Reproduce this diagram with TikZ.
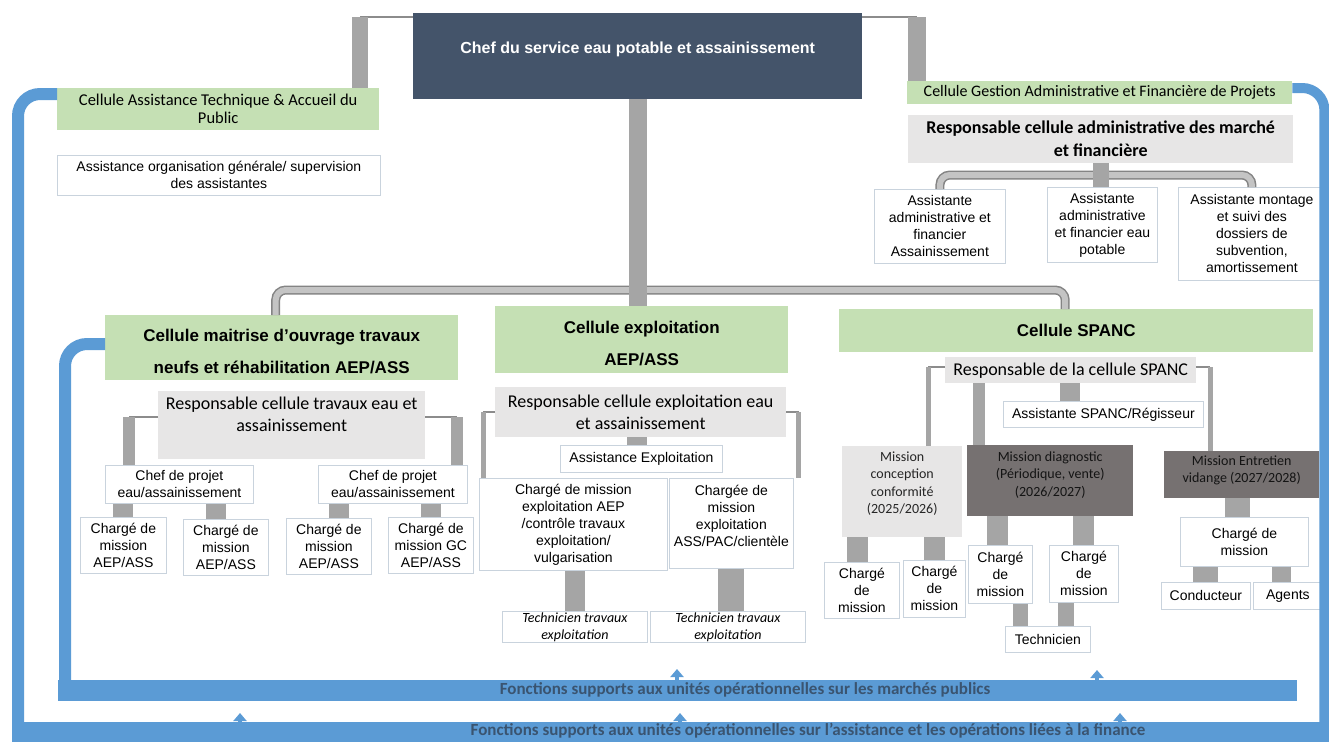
\documentclass[tikz,border=0pt]{standalone}
\usepackage{fontspec}
\setmainfont{Liberation Sans}
\newfontfamily\calibri{Carlito}
\usetikzlibrary{arrows.meta}
\definecolor{ChefClr}{HTML}{44546A}
\definecolor{CellClr}{HTML}{C5E0B4}
\definecolor{RespClr}{HTML}{E7E6E6}
\definecolor{MissClr}{HTML}{767171}
\definecolor{TigeClr}{HTML}{A5A5A5}
\definecolor{BusClr}{HTML}{C4C4C4}
\definecolor{BleuClr}{HTML}{5B9BD5}
\definecolor{BordClr}{HTML}{C9D3DD}
\definecolor{SuppClr}{HTML}{3A5470}

\tikzset{
  boite/.style 2 args={anchor=north west, inner sep=0pt, align=center,
    minimum width=#1pt, minimum height=#2pt},
  chefbox/.style={fill=ChefClr, text=white, font=\bfseries\fontsize{16}{19}\selectfont},
  cellbox/.style={fill=CellClr, font=\bfseries\fontsize{17}{32}\selectfont},
  cellpetit/.style={fill=CellClr, font=\calibri\fontsize{16.5}{18}\selectfont},
  respbox/.style={fill=RespClr, font=\calibri\fontsize{18}{22}\selectfont},
  postebox/.style={draw=BordClr, fill=white, line width=0.8pt, font=\fontsize{14}{17}\selectfont},
  techbox/.style={postebox, font=\calibri\itshape\fontsize{14}{17}\selectfont},
  missclair/.style={fill=RespClr, text=black!85, font=\calibri\fontsize{14}{17.5}\selectfont},
  missfonce/.style={fill=MissClr, text=black!92, font=\calibri\fontsize{14}{17.5}\selectfont},
  tige/.style={draw=TigeClr, line width=#1pt},
  tige/.default=20,
  fil/.style={draw=TigeClr!85!black, line width=2pt},
  bus/.style={draw=TigeClr!80!black, line width=1.5pt, double=BusClr,
    double distance=6pt, rounded corners=10pt},
  cadre/.style={draw=BleuClr, line width=#1pt, rounded corners=22pt},
  cadre/.default=12,
  barre/.style={fill=BleuClr, anchor=north west, inner sep=0pt},
  supp/.style={text=SuppClr, font=\calibri\bfseries\fontsize{17}{19}\selectfont},
  flecheb/.style={draw=BleuClr, line width=4pt, -{Triangle[width=13pt,length=8pt]}},
}

\begin{document}
\begin{tikzpicture}[x=1pt,y=-1pt]
\useasboundingbox (0,0) rectangle (1329,742);
\fill[white] (0,0) rectangle (1329,742);

% Direction du service.
\node[boite={449}{86}, chefbox, text depth=17pt] (chef) at (413,13)
  {Chef du service eau potable et assainissement};

% Cellule assistance technique (en haut à gauche).
\node[boite={322}{42}, cellpetit] (cat) at (57,88)
  {Cellule Assistance Technique \& Accueil du\\Public};
\node[boite={323}{40}, postebox] (aog) at (57,155)
  {Assistance organisation générale/ supervision\\des assistantes};

% Cellule gestion administrative et financière (en haut à droite).
\node[boite={385}{23}, cellpetit, font=\calibri\fontsize{16}{18}\selectfont] (cgest) at (907,81)
  {Cellule Gestion Administrative et Financière de Projets};
\node[boite={385}{48}, respbox, font=\calibri\bfseries\fontsize{18}{23}\selectfont] (rcaf) at (908,115)
  {Responsable cellule administrative des marché\\et financière};
\node[boite={131}{74}, postebox] (aa1) at (874,189)
  {Assistante\\administrative et\\financier\\Assainissement};
\node[boite={110}{75}, postebox] (aa2) at (1047,187)
  {Assistante\\administrative\\et financier eau\\potable};
\node[boite={147}{93}, postebox] (aa3) at (1178,187)
  {Assistante montage\\et suivi des\\dossiers de\\subvention,\\amortissement};

% Les trois cellules opérationnelles.
\node[boite={353}{65}, cellbox, text height=52pt] (cmo) at (105,315)
  {Cellule maitrise d’ouvrage travaux\\neufs et réhabilitation AEP/ASS};
\node[boite={293}{67}, cellbox, text height=52pt] (cex) at (495,306)
  {Cellule exploitation\\AEP/ASS};
\node[boite={474}{43}, cellbox] (cspanc) at (839,309) {Cellule SPANC};

% Cellule maitrise d'ouvrage.
\node[boite={267}{68}, respbox, text depth=22pt] (rtx) at (158,391)
  {Responsable cellule travaux eau et\\assainissement};
\node[boite={148}{38}, postebox] (cp1) at (105,465) {Chef de projet\\eau/assainissement};
\node[boite={149}{38}, postebox] (cp2) at (318,465) {Chef de projet\\eau/assainissement};
\node[boite={86}{56}, postebox] (cm1) at (80,517) {Chargé de\\mission\\AEP/ASS};
\node[boite={85}{56}, postebox] (cm2) at (183,519) {Chargé de\\mission\\AEP/ASS};
\node[boite={85}{56}, postebox] (cm3) at (286,518) {Chargé de\\mission\\AEP/ASS};
\node[boite={85}{56}, postebox] (cm4) at (388,517) {Chargé de\\mission GC\\AEP/ASS};

% Cellule exploitation.
\node[boite={291}{50}, respbox] (rex) at (495,387)
  {Responsable cellule exploitation eau\\et assainissement};
\node[boite={162}{27}, postebox] (aex) at (560,445) {Assistance Exploitation};
\node[boite={188}{92}, postebox] (cme1) at (479,478)
  {Chargé de mission\\exploitation AEP\\/contrôle travaux\\exploitation/\\vulgarisation};
\node[boite={124}{90}, postebox, text depth=16pt] (cme2) at (669,478)
  {Chargée de\\mission\\exploitation\\ASS/PAC/clientèle};
\node[boite={145}{31}, techbox] (te1) at (502,611) {Technicien travaux\\exploitation};
\node[boite={155}{31}, techbox] (te2) at (650,611) {Technicien travaux\\exploitation};

% Cellule SPANC.
\node[boite={251}{26}, respbox] (rsp) at (945,357) {Responsable de la cellule SPANC};
\node[boite={200}{26}, postebox] (asp) at (1003,401) {Assistante SPANC/Régisseur};
\node[boite={120}{91}, missclair, text depth=18pt] (mcc) at (842,446)
  {Mission\\conception\\conformité\\(2025/2026)};
\node[boite={166}{71}, missfonce, text depth=14pt] (mdg) at (967,445)
  {Mission diagnostic\\(Périodique, vente)\\(2026/2027)};
\node[boite={155}{47}, missfonce, text depth=11.5pt] (men) at (1164,451)
  {Mission Entretien\\vidange (2027/2028)};
\node[boite={75}{56}, postebox] (cs1) at (824,562) {Chargé\\de\\mission};
\node[boite={62}{57}, postebox] (cs2) at (903,560) {Chargé\\de\\mission};
\node[boite={64}{58}, postebox] (cs3) at (968,545) {Chargé\\de\\mission};
\node[boite={69}{57}, postebox] (cs4) at (1049,545) {Chargé\\de\\mission};
\node[boite={85}{26}, postebox] (tec) at (1005,626) {Technicien};
\node[boite={128}{49}, postebox] (cs5) at (1180,517) {Chargé de\\mission};
\node[boite={89}{27}, postebox] (cond) at (1161,582) {Conducteur};
\node[boite={69}{27}, postebox] (agt) at (1253,582) {Agents};

% Barres des fonctions supports.
\node[barre, minimum width=1239pt, minimum height=21pt] (barA) at (58,680) {};
\node[barre, minimum width=1317pt, minimum height=20pt] (barB) at (12,722) {};
\node[supp] (sa) at (745,690)
  {Fonctions supports aux unités opérationnelles sur les marchés publics};
\node[supp] (sb) at (808,731)
  {Fonctions supports aux unités opérationnelles sur l’assistance et les opérations liées à la finance};

% Cadres bleus.
\draw[cadre] ([yshift=-6pt]cat.north west) -| ([xshift=6pt]barB.north west);
\draw[cadre=10] ([yshift=-7pt]cgest.north east) -| ([xshift=-5pt]barB.north east);
\draw[cadre] ([yshift=-29pt]cmo.north west) -| ([xshift=7pt]barA.north west);

% Flèches vers les cellules.
\coordinate (fa1) at (677,669);
\coordinate (fa2) at (1097,670);
\coordinate (fb1) at (240,713);
\coordinate (fb2) at (680,713);
\coordinate (fb3) at (1120,713);
\foreach \f in {fa1,fa2} \draw[flecheb] (barA.north -| \f) -- (\f);
\foreach \f in {fb1,fb2,fb3} \draw[flecheb] (barB.north -| \f) -- (\f);

% Liaisons depuis le chef de service.
\coordinate (hg) at (360,17);
\coordinate (hd) at (917,17);
\draw[fil] ([yshift=-4pt]chef.north west) -- (hg);
\draw[tige=16] (hg) -- (hg |- cat.north);
\draw[fil] ([yshift=-4pt]chef.north east) -- (hd);
\draw[tige=18] (hd) -- (hd |- cgest.north);
\coordinate (bc) at (636,290);
\draw[bus] ([xshift=-6pt]cmo.north) |- (bc) -| ([xshift=-11pt]cspanc.north);
\draw[tige=18] (chef.south) -- (chef.south |- cex.north);

% Liaisons de la cellule gestion.
\coordinate (bg) at (1100,175);
\draw[bus] (aa1.north) |- (bg) -| (aa3.north);
\draw[tige=16] (rcaf.south) -- (rcaf.south |- aa2.north);

% Liaisons de la cellule maitrise d'ouvrage.
\coordinate (k1) at ([xshift=24pt]cp1.north west);
\coordinate (k2) at ([xshift=-11pt]cp2.north east);
\draw[fil] ([yshift=8pt]rtx.west) -- ([yshift=8pt]rtx.west -| k1);
\draw[tige=12] ([yshift=8pt]rtx.west -| k1) -- (k1);
\draw[fil] ([yshift=8pt]rtx.east) -- ([yshift=8pt]rtx.east -| k2);
\draw[tige=12] ([yshift=8pt]rtx.east -| k2) -- (k2);
\draw[tige] (cm1.north) -- (cm1.north |- cp1.south);
\draw[tige] ([xshift=-10pt]cm2.north) -- ([xshift=-10pt]cm2.north |- cp1.south);
\draw[tige] ([xshift=10pt]cm3.north) -- ([xshift=10pt]cm3.north |- cp2.south);
\draw[tige] (cm4.north) -- (cm4.north |- cp2.south);

% Liaisons de la cellule exploitation.
\coordinate (k3) at ([xshift=4pt]cme1.north west);
\coordinate (k4) at ([xshift=5pt]cme2.north east);
\draw[fil] (rex.west) -- (rex.west -| k3);
\draw[tige=5] (rex.west -| k3) -- (k3);
\draw[fil] (rex.east) -- (rex.east -| k4);
\draw[tige=5] (rex.east -| k4) -- (k4);
\draw[tige] ([xshift=-4pt]aex.north) -- ([xshift=-4pt]aex.north |- rex.south);
\draw[tige] (te1.north) -- (te1.north |- cme1.south);
\draw[tige=26] (cme2.south) -- (cme2.south |- te2.north);

% Liaisons de la cellule SPANC.
\coordinate (k5) at ([xshift=-34pt]mcc.north east);
\coordinate (k6) at ([xshift=12pt]mdg.north west);
\coordinate (k7) at ([xshift=46pt]men.north west);
\draw[fil] ([yshift=3pt]rsp.west) -- ([yshift=3pt]rsp.west -| k5);
\draw[tige=5] ([yshift=3pt]rsp.west -| k5) -- (k5);
\draw[tige=12] (k6 |- rsp.south) -- (k6);
\draw[fil] ([yshift=3pt]rsp.east) -- ([yshift=3pt]rsp.east -| k7);
\draw[tige=5] ([yshift=3pt]rsp.east -| k7) -- (k7);
\draw[tige] ([xshift=-33pt]asp.north) -- ([xshift=-33pt]asp.north |- rsp.south);
\draw[tige=21] ([xshift=-4pt]cs1.north) -- ([xshift=-4pt]cs1.north |- mcc.south);
\draw[tige=21] (cs2.north) -- (cs2.north |- mcc.south);
\draw[tige=21] ([xshift=-3pt]cs3.north) -- ([xshift=-3pt]cs3.north |- mdg.south);
\draw[tige=21] (cs4.north) -- (cs4.north |- mdg.south);
\draw[tige=15] ([xshift=20pt]cs3.south) -- ([xshift=20pt]cs3.south |- tec.north);
\draw[tige=16] ([xshift=-18pt]cs4.south) -- ([xshift=-18pt]cs4.south |- tec.north);
\draw[tige=25] ([xshift=-7pt]cs5.north) -- ([xshift=-7pt]cs5.north |- men.south);
\draw[tige=25] (cond.north) -- (cond.north |- cs5.south);
\draw[tige=19] ([xshift=-6pt]agt.north) -- ([xshift=-6pt]agt.north |- cs5.south);

\end{tikzpicture}
\end{document}
